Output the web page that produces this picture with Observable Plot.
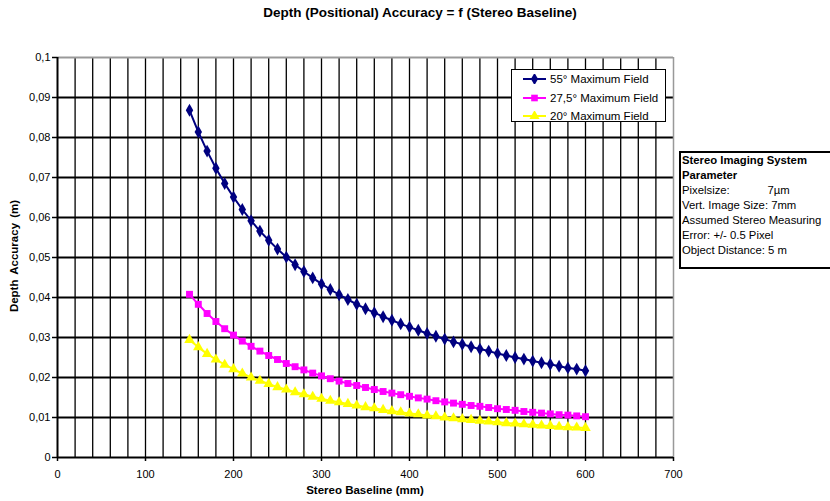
<!DOCTYPE html>
<html><head><meta charset="utf-8">
<script src="https://cdn.jsdelivr.net/npm/d3@7"></script>
<script src="https://cdn.jsdelivr.net/npm/@observablehq/plot@0.6"></script>
<style>
body{margin:0;background:#fff;font-family:"Liberation Sans",Arial,sans-serif;}
#wrap{position:relative;width:830px;height:501px;overflow:hidden;}
.ov{position:absolute;color:#000;}
#title{top:5px;left:10px;width:820px;text-align:center;font-weight:bold;font-size:13.5px;}
#xlab{top:484px;left:0;width:730px;text-align:center;font-weight:bold;font-size:11.5px;}
#ylab{top:250px;left:-46px;width:120px;text-align:center;font-weight:bold;font-size:11.5px;word-spacing:2px;transform:rotate(-90deg);}
#legend{left:511px;top:69px;width:153px;height:51px;border:1.5px solid #000;background:#fff;font-size:11.5px;}
.row{position:absolute;left:0;height:18px;display:flex;align-items:center;}
.row svg{margin-left:11px;margin-right:4px;}
#info{left:679px;top:151px;width:149px;height:114px;border:2px solid #000;border-right:none;background:#fff;font-size:11.3px;line-height:15px;padding-left:1px;white-space:pre;}
</style></head>
<body><div id="wrap"></div>
<script>
// ---- data ----
const baseline = [150,160,170,180,190,200,210,220,230,240,250,260,270,280,290,300,310,320,330,340,350,360,370,380,390,400,410,420,430,440,450,460,470,480,490,500,510,520,530,540,550,560,570,580,590,600];
const field55 = [0.0868,0.0814,0.0766,0.0723,0.0685,0.0651,0.0620,0.0592,0.0566,0.0543,0.0521,0.0501,0.0482,0.0465,0.0449,0.0434,0.0420,0.0407,0.0395,0.0383,0.0372,0.0362,0.0352,0.0343,0.0334,0.0326,0.0318,0.0310,0.0303,0.0296,0.0289,0.0283,0.0277,0.0271,0.0266,0.0260,0.0255,0.0250,0.0246,0.0241,0.0237,0.0233,0.0228,0.0224,0.0221,0.0217];
const field275 = [0.0408,0.0383,0.0360,0.0340,0.0322,0.0306,0.0291,0.0278,0.0266,0.0255,0.0245,0.0235,0.0227,0.0219,0.0211,0.0204,0.0197,0.0191,0.0185,0.0180,0.0175,0.0170,0.0165,0.0161,0.0157,0.0153,0.0149,0.0146,0.0142,0.0139,0.0136,0.0133,0.0130,0.0128,0.0125,0.0122,0.0120,0.0118,0.0115,0.0113,0.0111,0.0109,0.0107,0.0106,0.0104,0.0102];
const field20 = [0.0294,0.0276,0.0259,0.0245,0.0232,0.0221,0.0210,0.0200,0.0192,0.0184,0.0176,0.0170,0.0163,0.0158,0.0152,0.0147,0.0142,0.0138,0.0134,0.0130,0.0126,0.0123,0.0119,0.0116,0.0113,0.0110,0.0108,0.0105,0.0103,0.0100,0.0098,0.0096,0.0094,0.0092,0.0090,0.0088,0.0086,0.0085,0.0083,0.0082,0.0080,0.0079,0.0077,0.0076,0.0075,0.0074];
const seriesNames = ["55° Maximum Field","27,5° Maximum Field","20° Maximum Field"];
const seriesColors = ["#000080","#FF00FF","#FFFF00"];
const seriesSymbols = ["diamond","square","triangle"];
const xTicks = [0,100,200,300,400,500,600,700];
const yTicks = [0,0.01,0.02,0.03,0.04,0.05,0.06,0.07,0.08,0.09,0.1];
const xGrid = [20,40,60,80,100,120,140,160,180,200,220,240,260,280,300,320,340,360,380,400,420,440,460,480,500,520,540,560,580,600,620,640,660,680];
const yGrid = [0.01,0.02,0.03,0.04,0.05,0.06,0.07,0.08,0.09];
const titleText = "Depth (Positional) Accuracy = f (Stereo Baseline)";
const xLabel = "Stereo Baseline (mm)";
const yLabel = "Depth Accuracy (m)";
const infoLines = ["<b>Stereo Imaging System</b>","<b>Parameter</b>","Pixelsize:            7µm","Vert. Image Size: 7mm","Assumed Stereo Measuring","Error: +/- 0.5 Pixel","Object Distance: 5 m"];

const allSeries = [field55, field275, field20];
const rows = allSeries.flatMap((vals, i) => vals.map((v, j) => ({x: baseline[j], y: v, s: seriesNames[i]})));

const chart = Plot.plot({
  width: 830, height: 501,
  marginLeft: 57, marginRight: 157, marginTop: 57, marginBottom: 44,
  style: {fontFamily: '"Liberation Sans", Arial, sans-serif', fontSize: "11px", color: "#000", background: "#fff"},
  x: {domain: [0, 700]},
  y: {domain: [0, 0.1]},
  color: {domain: seriesNames, range: seriesColors},
  symbol: {domain: seriesNames, range: seriesSymbols},
  marks: [
    Plot.ruleX(xGrid, {stroke: "#000", strokeWidth: 1.3}),
    Plot.ruleY(yGrid, {stroke: "#000", strokeWidth: 2}),
    Plot.ruleX([700], {stroke: "#999", strokeWidth: 1.5}),
    Plot.ruleY([0.1], {stroke: "#999", strokeWidth: 2}),
    Plot.axisY({ticks: yTicks, tickFormat: d => String(d).replace(".", ","), tickSize: 5, tickPadding: 2, label: null, strokeWidth: 1.5}),
    Plot.axisX({ticks: xTicks, tickFormat: d => String(d), tickSize: 4, tickPadding: 9, label: null, strokeWidth: 1.5}),
    Plot.ruleX([0], {stroke: "#000", strokeWidth: 2}),
    Plot.ruleY([0], {stroke: "#000", strokeWidth: 2}),
    Plot.line(rows, {x: "x", y: "y", z: "s", stroke: "s", strokeWidth: 2}),
    Plot.dot(rows, {x: "x", y: "y", fill: "s", symbol: "s", r: 3.9, stroke: null})
  ]
});

const wrap = document.getElementById("wrap");
wrap.appendChild(chart);

function ov(id, html) { const d = document.createElement("div"); d.className = "ov"; d.id = id; d.innerHTML = html; wrap.appendChild(d); return d; }
ov("title", titleText);
ov("xlab", xLabel);
ov("ylab", yLabel);

const leg = ov("legend", "");
const symPath = {diamond: d3.symbol(d3.symbolDiamond, 44)(), square: d3.symbol(d3.symbolSquare, 44)(), triangle: d3.symbol(d3.symbolTriangle, 44)()};
seriesNames.forEach((name, i) => {
  const r = document.createElement("div");
  r.className = "row";
  r.style.top = (0 + i * 18.5) + "px";
  r.innerHTML = `<svg width="23" height="10" viewBox="-11.5 -5 23 10"><line x1="-11.5" x2="11.5" y1="0" y2="0" stroke="${seriesColors[i]}" stroke-width="2"/><path d="${symPath[seriesSymbols[i]]}" fill="${seriesColors[i]}"/></svg><span>${name}</span>`;
  leg.appendChild(r);
});

ov("info", infoLines.join("\n"));
</script>
</body></html>
